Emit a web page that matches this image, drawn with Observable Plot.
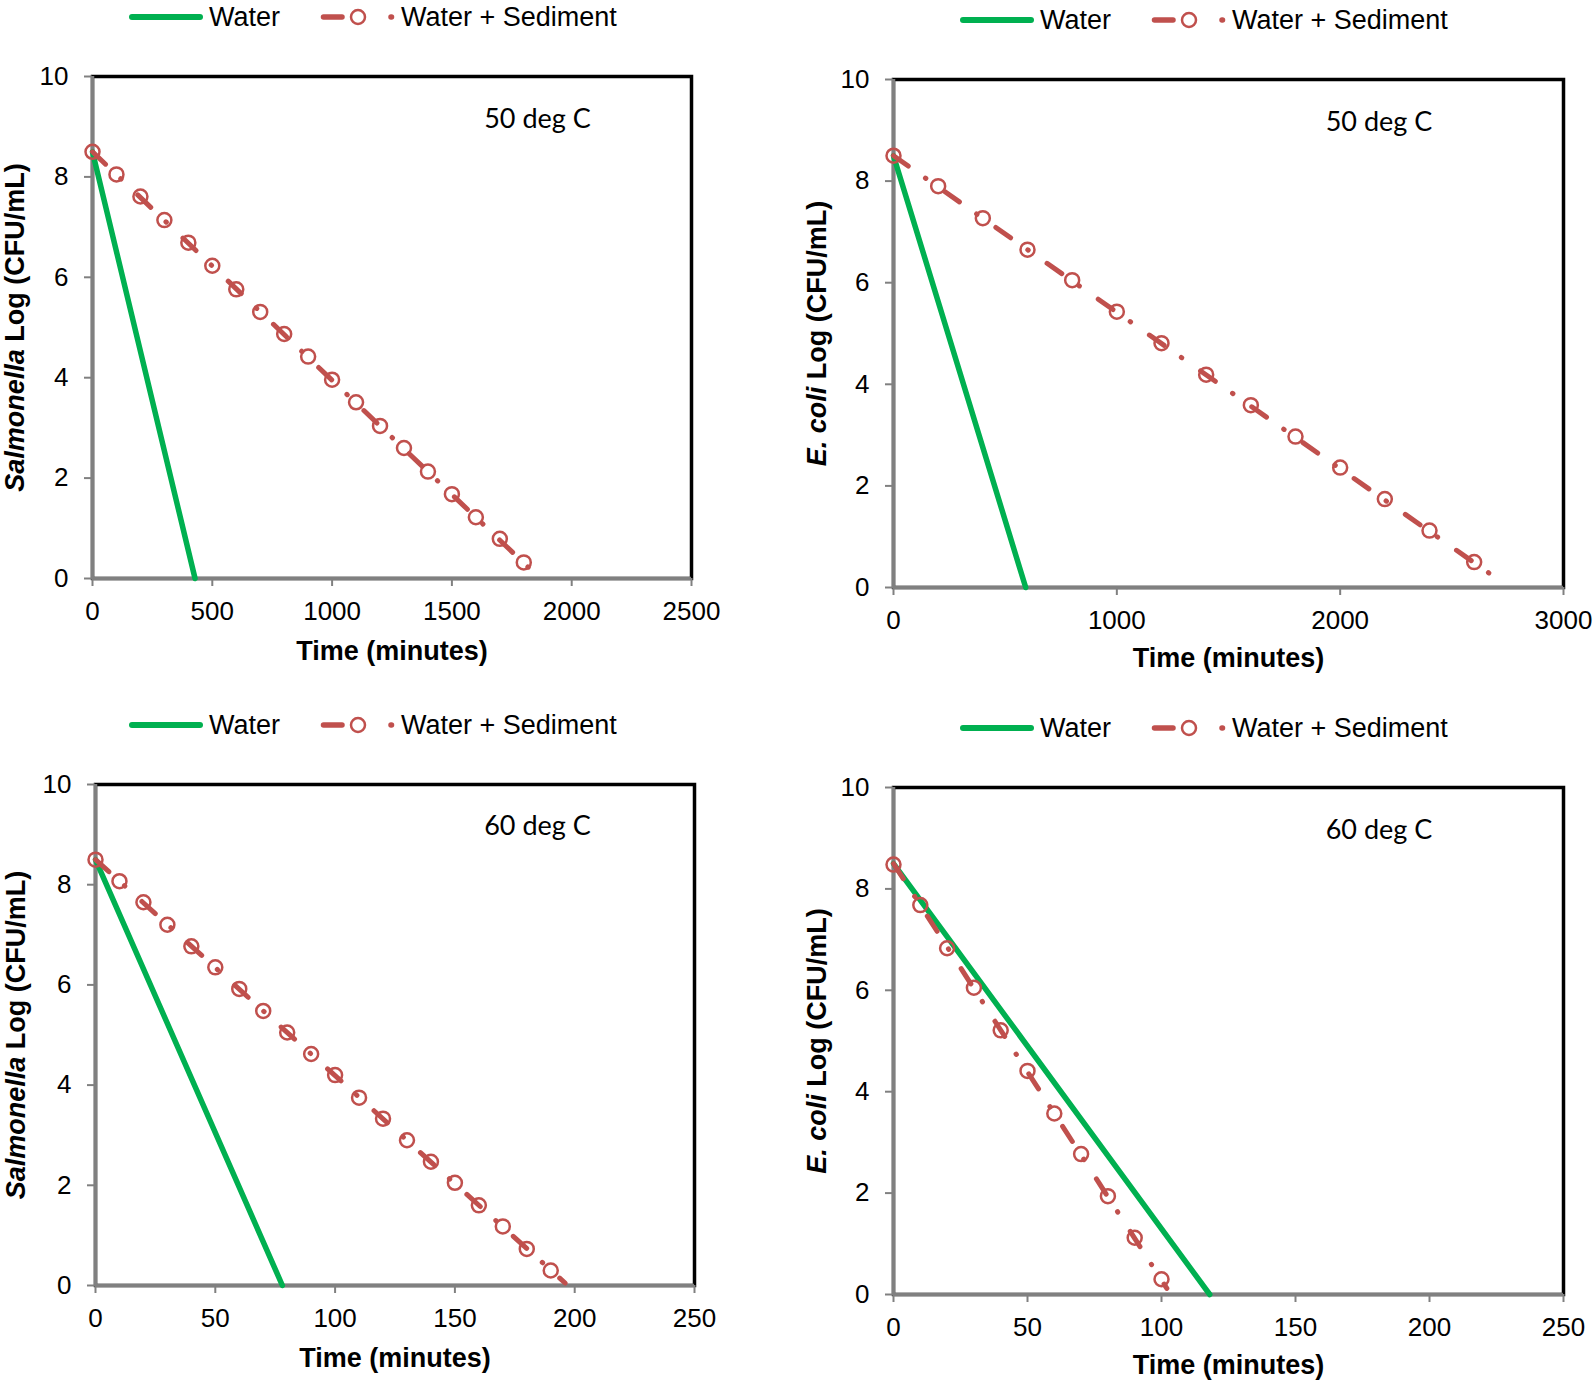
<!DOCTYPE html>
<html>
<head>
<meta charset="utf-8">
<script src="https://cdn.jsdelivr.net/npm/d3@7"></script>
<script src="https://cdn.jsdelivr.net/npm/@observablehq/plot@0.6"></script>
<style>
  body { margin: 0; background: #fff; }
  #root { position: relative; width: 1594px; height: 1387px; overflow: hidden; background: #fff;
          font-family: "Liberation Sans", Arial, sans-serif; }
  .panel { position: absolute; }
  .legend { position: absolute; height: 30px; width: 520px; }
  .legend svg { position: absolute; top: 0; overflow: visible; }
  .legend .lt { position: absolute; top: 0; font-size: 27px; line-height: 30px; color: #000; white-space: nowrap; }
</style>
</head>
<body>
<div id="root"></div>
<script>
// ---------- DATA ----------
const legendLabels = ["Water", "Water + Sediment"];
const yTicks = [0, 2, 4, 6, 8, 10];
const yDomain = [0, 10];

// Panel 1: Salmonella, 50 deg C
const salm50XTicks = [0, 500, 1000, 1500, 2000, 2500];
const salm50WaterTime = [0, 428];
const salm50WaterLog = [8.5, 0];
const salm50SedTime = [0, 100, 200, 300, 400, 500, 600, 700, 800, 900, 1000, 1100, 1200, 1300, 1400, 1500, 1600, 1700, 1800];
const salm50SedLog = [8.5, 8.05, 7.61, 7.14, 6.69, 6.23, 5.76, 5.31, 4.87, 4.42, 3.96, 3.51, 3.04, 2.6, 2.13, 1.68, 1.22, 0.79, 0.32];
const salm50SedLineTime = [0, 1835];
const salm50SedLineLog = [8.5, 0.15];

// Panel 2: E. coli, 50 deg C
const ecoli50XTicks = [0, 1000, 2000, 3000];
const ecoli50WaterTime = [0, 592];
const ecoli50WaterLog = [8.5, 0];
const ecoli50SedTime = [0, 200, 400, 600, 800, 1000, 1200, 1400, 1600, 1800, 2000, 2200, 2400, 2600];
const ecoli50SedLog = [8.5, 7.9, 7.27, 6.65, 6.05, 5.43, 4.81, 4.19, 3.59, 2.97, 2.36, 1.74, 1.12, 0.5];
const ecoli50SedLineTime = [0, 2710];
const ecoli50SedLineLog = [8.5, 0.15];

// Panel 3: Salmonella, 60 deg C
const salm60XTicks = [0, 50, 100, 150, 200, 250];
const salm60WaterTime = [0, 78];
const salm60WaterLog = [8.5, 0];
const salm60SedTime = [0, 10, 20, 30, 40, 50, 60, 70, 80, 90, 100, 110, 120, 130, 140, 150, 160, 170, 180, 190];
const salm60SedLog = [8.5, 8.07, 7.65, 7.2, 6.77, 6.35, 5.92, 5.48, 5.05, 4.62, 4.2, 3.75, 3.33, 2.9, 2.47, 2.05, 1.6, 1.18, 0.73, 0.3];
const salm60SedLineTime = [0, 196];
const salm60SedLineLog = [8.5, 0.05];

// Panel 4: E. coli, 60 deg C
const ecoli60XTicks = [0, 50, 100, 150, 200, 250];
const ecoli60WaterTime = [0, 118];
const ecoli60WaterLog = [8.5, 0];
const ecoli60SedTime = [0, 10, 20, 30, 40, 50, 60, 70, 80, 90, 100];
const ecoli60SedLog = [8.48, 7.68, 6.83, 6.05, 5.21, 4.41, 3.57, 2.77, 1.94, 1.12, 0.3];
const ecoli60SedLineTime = [0, 102];
const ecoli60SedLineLog = [8.5, 0.12];

// ---------- STYLE ----------
const waterColor = "#00B050";
const sedColor = "#C0504D";
const axisGray = "#808080";
const sedDash = "18,21,0.5,23";

const panels = [
  { left: 0, top: 40, width: 736, height: 638, ml: 92, mr: 45, mt: 36, mb: 100, xLabelOffset: 81, yLabelOffset: 88,
    xDomain: [0, 2500], xTicks: salm50XTicks, organism: "Salmonella", temp: "50 deg C", tempDx: 145.5, tempDy: 32,
    waterTime: salm50WaterTime, waterLog: salm50WaterLog, sedTime: salm50SedTime, sedLog: salm50SedLog,
    sedLineTime: salm50SedLineTime, sedLineLog: salm50SedLineLog, legendLeft: 129, legendY: 16.5 },
  { left: 803, top: 40, width: 791, height: 647, ml: 90, mr: 31, mt: 39, mb: 100, xLabelOffset: 79, yLabelOffset: 87,
    xDomain: [0, 3000], xTicks: ecoli50XTicks, organism: "E. coli", temp: "50 deg C", tempDx: 150.5, tempDy: 32,
    waterTime: ecoli50WaterTime, waterLog: ecoli50WaterLog, sedTime: ecoli50SedTime, sedLog: ecoli50SedLog,
    sedLineTime: ecoli50SedLineTime, sedLineLog: ecoli50SedLineLog, legendLeft: 960, legendY: 20 },
  { left: 0, top: 740, width: 736, height: 645, ml: 95, mr: 42, mt: 44, mb: 100, xLabelOffset: 81, yLabelOffset: 90,
    xDomain: [0, 250], xTicks: salm60XTicks, organism: "Salmonella", temp: "60 deg C", tempDx: 142.5, tempDy: 31.5,
    waterTime: salm60WaterTime, waterLog: salm60WaterLog, sedTime: salm60SedTime, sedLog: salm60SedLog,
    sedLineTime: salm60SedLineTime, sedLineLog: salm60SedLineLog, legendLeft: 129, legendY: 725 },
  { left: 803, top: 740, width: 791, height: 647, ml: 90, mr: 31, mt: 47, mb: 93, xLabelOffset: 79, yLabelOffset: 87,
    xDomain: [0, 250], xTicks: ecoli60XTicks, organism: "E. coli", temp: "60 deg C", tempDx: 150.5, tempDy: 32.5,
    waterTime: ecoli60WaterTime, waterLog: ecoli60WaterLog, sedTime: ecoli60SedTime, sedLog: ecoli60SedLog,
    sedLineTime: ecoli60SedLineTime, sedLineLog: ecoli60SedLineLog, legendLeft: 960, legendY: 728 }
];

const root = d3.select("#root");

function addLegend(left, y) {
  const lg = root.append("div").attr("class", "legend")
    .style("left", left + "px").style("top", (y - 15) + "px");
  lg.append("svg").attr("width", 76).attr("height", 30).style("left", "0px")
    .html(`<line x1="3" x2="71" y1="15" y2="15" stroke="${waterColor}" stroke-width="6" stroke-linecap="round"/>`);
  lg.append("div").attr("class", "lt").style("left", "80px").text(legendLabels[0]);
  lg.append("svg").attr("width", 76).attr("height", 30).style("left", "192px")
    .html(`<line x1="2.5" x2="21" y1="15" y2="15" stroke="${sedColor}" stroke-width="5.5" stroke-linecap="round"/>
           <circle cx="37" cy="15" r="7" fill="none" stroke="${sedColor}" stroke-width="2.5"/>
           <line x1="70" x2="70.5" y1="15" y2="15" stroke="${sedColor}" stroke-width="5.5" stroke-linecap="round"/>`);
  lg.append("div").attr("class", "lt").style("left", "272px").text(legendLabels[1]);
}

function drawPanel(cfg) {
  const water = cfg.waterTime.map((t, i) => ({t, v: cfg.waterLog[i]}));
  const sedLine = cfg.sedLineTime.map((t, i) => ({t, v: cfg.sedLineLog[i]}));
  const sed = cfg.sedTime.map((t, i) => ({t, v: cfg.sedLog[i]}));
  const chart = Plot.plot({
    width: cfg.width, height: cfg.height,
    marginLeft: cfg.ml, marginRight: cfg.mr, marginTop: cfg.mt, marginBottom: cfg.mb,
    style: { fontFamily: '"Liberation Sans", Arial, sans-serif', fontSize: "26px", color: "#000",
             background: "transparent", overflow: "visible" },
    x: { domain: cfg.xDomain },
    y: { domain: yDomain },
    marks: [
      Plot.frame({ stroke: "#000", strokeWidth: 3.5 }),
      Plot.ruleX([cfg.xDomain[0]], { stroke: axisGray, strokeWidth: 3.5 }),
      Plot.ruleY([yDomain[0]], { stroke: axisGray, strokeWidth: 3.5 }),
      Plot.axisX({ ticks: cfg.xTicks, tickFormat: d => String(d), tickSize: 8, tickPadding: 15,
                   stroke: axisGray, strokeWidth: 2, fill: "#000",
                   label: "Time (minutes)", labelAnchor: "center", labelOffset: cfg.xLabelOffset }),
      Plot.axisY({ ticks: yTicks, tickFormat: d => String(d), tickSize: 8, tickPadding: 16,
                   stroke: axisGray, strokeWidth: 2, fill: "#000",
                   label: cfg.organism + " Log (CFU/mL)", labelAnchor: "center", labelOffset: cfg.yLabelOffset }),
      Plot.line(water, { x: "t", y: "v", stroke: waterColor, strokeWidth: 5.5 }),
      Plot.line(sedLine, { x: "t", y: "v", stroke: sedColor, strokeWidth: 5,
                           strokeDasharray: sedDash, strokeLinecap: "round" }),
      Plot.dot(sed, { x: "t", y: "v", r: 7, stroke: sedColor, strokeWidth: 2.5, fill: "none" }),
      Plot.text([cfg.temp], { frameAnchor: "top", dx: cfg.tempDx, dy: cfg.tempDy, text: d => d,
                              fontFamily: "Lato", fontSize: 27, fill: "#000" })
    ]
  });
  const svg = d3.select(chart);
  svg.select('g[aria-label="x-axis label"] text')
    .text("Time (minutes)").attr("font-weight", "bold").attr("font-size", 27);
  const yl = svg.select('g[aria-label="y-axis label"] text');
  yl.text(null).attr("font-weight", "bold").attr("font-size", 27);
  yl.append("tspan").attr("font-style", "italic").text(cfg.organism);
  yl.append("tspan").text(" Log (CFU/mL)");

  const holder = root.append("div").attr("class", "panel")
    .style("left", cfg.left + "px").style("top", cfg.top + "px");
  holder.node().appendChild(chart);
  addLegend(cfg.legendLeft, cfg.legendY);
}

panels.forEach(drawPanel);
</script>
</body>
</html>
